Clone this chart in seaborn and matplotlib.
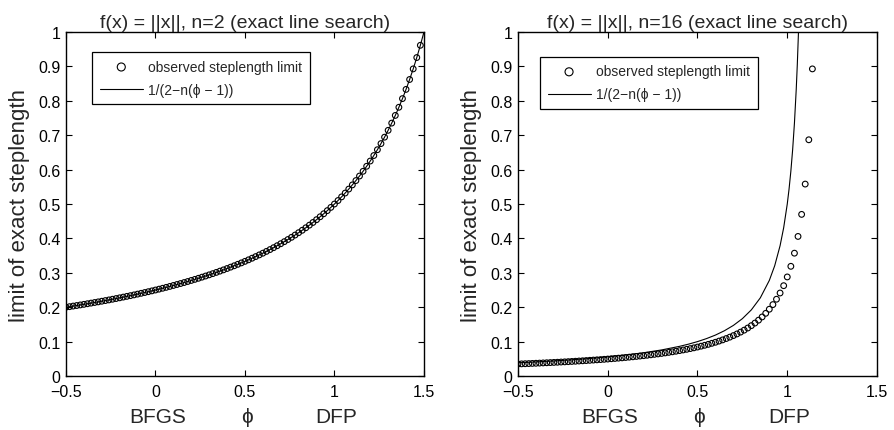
import pandas as pd
import matplotlib
matplotlib.use("Agg")
import matplotlib.pyplot as plt
import seaborn as sns

# ---- data ----
# left panel, n=2: observed steplength limit (circles), phi step 0.02 from -0.5
phi_left = [round(-0.5 + 0.02 * k, 2) for k in range(100)]
obs_left = [0.2000, 0.2016, 0.2033, 0.2049, 0.2066, 0.2083, 0.2101, 0.2119, 0.2137, 0.2155,
            0.2174, 0.2193, 0.2212, 0.2232, 0.2252, 0.2273, 0.2294, 0.2315, 0.2336, 0.2358,
            0.2381, 0.2404, 0.2427, 0.2451, 0.2475, 0.2500, 0.2525, 0.2551, 0.2577, 0.2604,
            0.2632, 0.2660, 0.2688, 0.2717, 0.2747, 0.2778, 0.2809, 0.2841, 0.2874, 0.2907,
            0.2941, 0.2976, 0.3012, 0.3049, 0.3086, 0.3125, 0.3165, 0.3205, 0.3247, 0.3289,
            0.3333, 0.3378, 0.3425, 0.3472, 0.3521, 0.3571, 0.3623, 0.3676, 0.3731, 0.3788,
            0.3846, 0.3906, 0.3968, 0.4032, 0.4098, 0.4167, 0.4237, 0.4310, 0.4386, 0.4464,
            0.4545, 0.4630, 0.4717, 0.4808, 0.4902, 0.5000, 0.5102, 0.5208, 0.5319, 0.5435,
            0.5556, 0.5682, 0.5814, 0.5952, 0.6098, 0.6250, 0.6410, 0.6579, 0.6757, 0.6944,
            0.7143, 0.7353, 0.7576, 0.7813, 0.8065, 0.8333, 0.8621, 0.8929, 0.9259, 0.9615]
# the curve 1/(2-n(phi-1)) runs through the circles and on up to the corner
line_phi_left = phi_left + [1.5]
line_left = obs_left + [1.0]

# right panel, n=16
phi_right = [round(-0.5 + 0.02 * k, 2) for k in range(83)]
obs_right = [0.0349, 0.0353, 0.0357, 0.0361, 0.0366, 0.0370, 0.0375, 0.0380, 0.0385, 0.0390,
             0.0395, 0.0400, 0.0406, 0.0411, 0.0417, 0.0423, 0.0429, 0.0436, 0.0442, 0.0449,
             0.0456, 0.0463, 0.0470, 0.0477, 0.0485, 0.0493, 0.0502, 0.0510, 0.0519, 0.0528,
             0.0538, 0.0548, 0.0558, 0.0569, 0.0580, 0.0591, 0.0603, 0.0616, 0.0629, 0.0642,
             0.0656, 0.0671, 0.0687, 0.0703, 0.0720, 0.0738, 0.0757, 0.0776, 0.0797, 0.0819,
             0.0842, 0.0867, 0.0893, 0.0920, 0.0950, 0.0981, 0.1015, 0.1050, 0.1089, 0.1130,
             0.1175, 0.1223, 0.1276, 0.1333, 0.1395, 0.1464, 0.1539, 0.1623, 0.1717, 0.1822,
             0.1941, 0.2076, 0.2232, 0.2413, 0.2626, 0.2880, 0.3189, 0.3571, 0.4058, 0.4699,
             0.5580, 0.6868, 0.8929]
line_phi_right = [-0.5, -0.4, -0.3, -0.2, -0.1, 0.0, 0.1, 0.2, 0.3, 0.4, 0.45, 0.5, 0.55,
                  0.6, 0.65, 0.7, 0.75, 0.8, 0.85, 0.9, 0.93, 0.96, 0.98, 1.0, 1.01, 1.02,
                  1.03, 1.04, 1.05, 1.056, 1.0625]
line_right = [0.03846, 0.04098, 0.04386, 0.04717, 0.05102, 0.05556, 0.06098, 0.06757, 0.07576,
              0.08621, 0.09259, 0.1000, 0.1087, 0.1190, 0.1316, 0.1471, 0.1667, 0.1923, 0.2273,
              0.2778, 0.3205, 0.3788, 0.4310, 0.5000, 0.5435, 0.5952, 0.6579, 0.7353, 0.8333,
              0.9058, 1.0000]

titles = ["f(x) = ||x||, n=2 (exact line search)", "f(x) = ||x||, n=16 (exact line search)"]
xticks = [-0.5, 0, 0.5, 1, 1.5]
xtick_labels = ["\u22120.5", "0", "0.5", "1", "1.5"]
yticks = [0, 0.1, 0.2, 0.3, 0.4, 0.5, 0.6, 0.7, 0.8, 0.9, 1]
ytick_labels = ["0", "0.1", "0.2", "0.3", "0.4", "0.5", "0.6", "0.7", "0.8", "0.9", "1"]
obs_label = "observed steplength limit"
line_label = "1/(2\u2212n(\u03d5 \u2212 1))"

sns.set_style("white")
plt.rcParams["font.family"] = ["Liberation Sans", "DejaVu Sans"]
plt.rcParams["axes.unicode_minus"] = True

fig = plt.figure(figsize=(8.94, 4.31), dpi=100)
ax1 = fig.add_axes([0.0738, 0.1253, 0.4004, 0.798])
ax2 = fig.add_axes([0.5794, 0.1253, 0.4016, 0.798])

panels = [
    (ax1, phi_left, obs_left, line_phi_left, line_left, titles[0], (0.073, 0.942)),
    (ax2, phi_right, obs_right, line_phi_right, line_right, titles[1], (0.061, 0.928)),
]

for ax, px, py, lx, ly, title, leg_pos in panels:
    obs_df = pd.DataFrame({"phi": px, "val": py})
    line_df = pd.DataFrame({"phi": lx, "val": ly})
    sns.scatterplot(data=obs_df, x="phi", y="val", ax=ax, marker="o", s=17,
                    facecolor="none", edgecolor="black", linewidth=0.8,
                    label=obs_label, zorder=3)
    sns.lineplot(data=line_df, x="phi", y="val", ax=ax, color="black", linewidth=0.8,
                 sort=False, estimator=None, label=line_label, zorder=2)

    ax.set_xlim(-0.5, 1.5)
    ax.set_ylim(0, 1)
    ax.set_xticks(xticks)
    ax.set_xticklabels(xtick_labels, fontsize=11.5)
    ax.set_yticks(yticks)
    ax.set_yticklabels(ytick_labels, fontsize=11.5)
    ax.tick_params(direction="in", length=4, width=0.8, top=True, right=True,
                   bottom=True, left=True, pad=4, colors="black")
    ax.tick_params(axis="x", pad=6)
    for sp in ax.spines.values():
        sp.set_visible(True)
        sp.set_color("black")
        sp.set_linewidth(1.0)

    ax.set_title(title, fontsize=14, pad=4)
    ax.set_xlabel("")
    ax.set_ylabel("limit of exact steplength", fontsize=16, labelpad=6)

    # the phi axis is labelled with three words, one under each end of the family
    ax.text(0.256, -0.117, "BFGS", transform=ax.transAxes, ha="center", va="center",
            fontsize=15)
    ax.text(0.505, -0.117, "\u03d5", transform=ax.transAxes, ha="center", va="center",
            fontsize=15)
    ax.text(0.755, -0.117, "DFP", transform=ax.transAxes, ha="center", va="center",
            fontsize=15)

    leg = ax.legend(loc="upper left", bbox_to_anchor=leg_pos, borderaxespad=0,
                    fontsize=10, frameon=True, fancybox=False, markerscale=1.4,
                    handlelength=3.1, borderpad=0.55, labelspacing=0.65,
                    handletextpad=0.4)
    leg.get_frame().set_edgecolor("black")
    leg.get_frame().set_linewidth(0.9)
    leg.get_frame().set_alpha(1)

fig.savefig("out.png", dpi=100)
